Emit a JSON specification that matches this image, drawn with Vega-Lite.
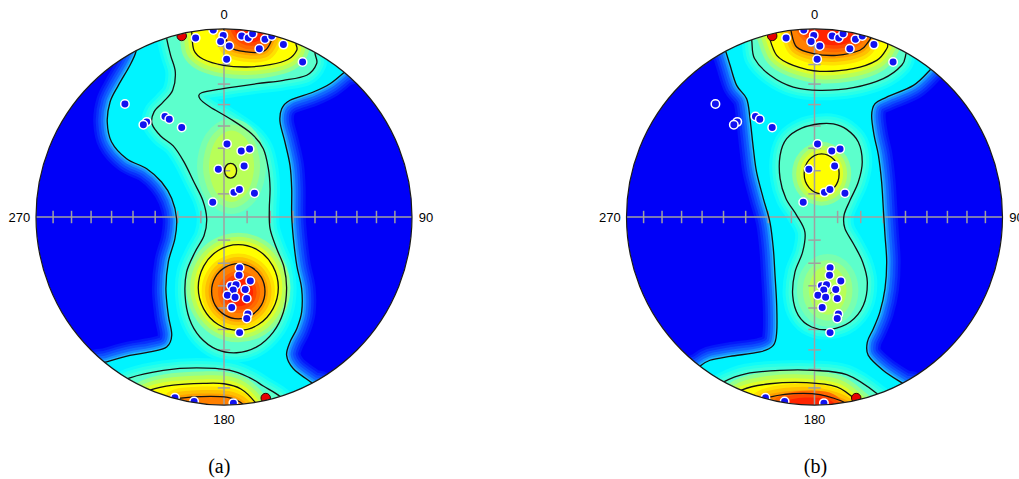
{
"$schema":"https://vega.github.io/schema/vega-lite/v6.json",
"padding":{"left":-37,"top":-44,"right":0,"bottom":0},
"background":"white",
"config":{"view":{"stroke":null}},
"bounds":"flush",
"spacing":214.5,
"data":{"values":[
{"p":"a","k":"c","x":0,"y":0},{"p":"b","k":"c","x":0,"y":0},

{"p":"a","k":"g","g":"a1","l":"1","x":-0.468,"y":0.881},{"p":"a","k":"g","g":"a1","l":"1","x":-0.5,"y":0.807},{"p":"a","k":"g","g":"a1","l":"1","x":-0.562,"y":0.7},{"p":"a","k":"g","g":"a1","l":"1","x":-0.606,"y":0.612},{"p":"a","k":"g","g":"a1","l":"1","x":-0.621,"y":0.505},{"p":"a","k":"g","g":"a1","l":"1","x":-0.598,"y":0.399},{"p":"a","k":"g","g":"a1","l":"1","x":-0.518,"y":0.31},{"p":"a","k":"g","g":"a1","l":"1","x":-0.411,"y":0.257},{"p":"a","k":"g","g":"a1","l":"1","x":-0.332,"y":0.186},{"p":"a","k":"g","g":"a1","l":"1","x":-0.278,"y":0.098},{"p":"a","k":"g","g":"a1","l":"1","x":-0.252,"y":-0.009},{"p":"a","k":"g","g":"a1","l":"1","x":-0.261,"y":-0.115},{"p":"a","k":"g","g":"a1","l":"1","x":-0.296,"y":-0.239},{"p":"a","k":"g","g":"a1","l":"1","x":-0.309,"y":-0.381},{"p":"a","k":"g","g":"a1","l":"1","x":-0.296,"y":-0.523},{"p":"a","k":"g","g":"a1","l":"1","x":-0.278,"y":-0.629},{"p":"a","k":"g","g":"a1","l":"1","x":-0.305,"y":-0.691},{"p":"a","k":"g","g":"a1","l":"1","x":-0.394,"y":-0.718},{"p":"a","k":"g","g":"a1","l":"1","x":-0.5,"y":-0.736},{"p":"a","k":"g","g":"a1","l":"1","x":-0.624,"y":-0.771},{"p":"a","k":"g","g":"a1","l":"1","x":-0.67,"y":-0.79},{"p":"a","k":"g","g":"a1","l":"1","x":-0.486,"y":-0.914},{"p":"a","k":"g","g":"a1","l":"1","x":-0.25,"y":-1.004},{"p":"a","k":"g","g":"a1","l":"1","x":0,"y":-1.035},{"p":"a","k":"g","g":"a1","l":"1","x":0.25,"y":-1.004},{"p":"a","k":"g","g":"a1","l":"1","x":0.5,"y":-0.905},{"p":"a","k":"g","g":"a1","l":"1","x":0.466,"y":-0.881},{"p":"a","k":"g","g":"a1","l":"1","x":0.369,"y":-0.807},{"p":"a","k":"g","g":"a1","l":"1","x":0.333,"y":-0.736},{"p":"a","k":"g","g":"a1","l":"1","x":0.351,"y":-0.665},{"p":"a","k":"g","g":"a1","l":"1","x":0.387,"y":-0.594},{"p":"a","k":"g","g":"a1","l":"1","x":0.413,"y":-0.505},{"p":"a","k":"g","g":"a1","l":"1","x":0.413,"y":-0.381},{"p":"a","k":"g","g":"a1","l":"1","x":0.387,"y":-0.257},{"p":"a","k":"g","g":"a1","l":"1","x":0.369,"y":-0.115},{"p":"a","k":"g","g":"a1","l":"1","x":0.36,"y":0.009},{"p":"a","k":"g","g":"a1","l":"1","x":0.36,"y":0.151},{"p":"a","k":"g","g":"a1","l":"1","x":0.351,"y":0.275},{"p":"a","k":"g","g":"a1","l":"1","x":0.324,"y":0.399},{"p":"a","k":"g","g":"a1","l":"1","x":0.298,"y":0.505},{"p":"a","k":"g","g":"a1","l":"1","x":0.307,"y":0.576},{"p":"a","k":"g","g":"a1","l":"1","x":0.351,"y":0.621},{"p":"a","k":"g","g":"a1","l":"1","x":0.475,"y":0.665},{"p":"a","k":"g","g":"a1","l":"1","x":0.564,"y":0.709},{"p":"a","k":"g","g":"a1","l":"1","x":0.64,"y":0.77},{"p":"a","k":"g","g":"a1","l":"1","x":0.665,"y":0.792},{"p":"a","k":"g","g":"a1","l":"1","x":0.486,"y":0.914},{"p":"a","k":"g","g":"a1","l":"1","x":0.25,"y":1.004},{"p":"a","k":"g","g":"a1","l":"1","x":0,"y":1.035},{"p":"a","k":"g","g":"a1","l":"1","x":-0.25,"y":1.004},{"p":"a","k":"g","g":"a1","l":"1","x":-0.48,"y":0.917},

{"p":"a","k":"g","g":"a2","l":"2","x":-0.305,"y":0.949},{"p":"a","k":"g","g":"a2","l":"2","x":-0.31,"y":0.988},{"p":"a","k":"g","g":"a2","l":"2","x":-0.126,"y":1.027},{"p":"a","k":"g","g":"a2","l":"2","x":0.126,"y":1.027},{"p":"a","k":"g","g":"a2","l":"2","x":0.371,"y":0.966},{"p":"a","k":"g","g":"a2","l":"2","x":0.5,"y":0.905},{"p":"a","k":"g","g":"a2","l":"2","x":0.484,"y":0.872},{"p":"a","k":"g","g":"a2","l":"2","x":0.493,"y":0.816},{"p":"a","k":"g","g":"a2","l":"2","x":0.44,"y":0.754},{"p":"a","k":"g","g":"a2","l":"2","x":0.316,"y":0.727},{"p":"a","k":"g","g":"a2","l":"2","x":0.174,"y":0.709},{"p":"a","k":"g","g":"a2","l":"2","x":-0.004,"y":0.683},{"p":"a","k":"g","g":"a2","l":"2","x":-0.119,"y":0.661},{"p":"a","k":"g","g":"a2","l":"2","x":-0.128,"y":0.629},{"p":"a","k":"g","g":"a2","l":"2","x":-0.074,"y":0.585},{"p":"a","k":"g","g":"a2","l":"2","x":0.032,"y":0.523},{"p":"a","k":"g","g":"a2","l":"2","x":0.147,"y":0.443},{"p":"a","k":"g","g":"a2","l":"2","x":0.209,"y":0.363},{"p":"a","k":"g","g":"a2","l":"2","x":0.236,"y":0.257},{"p":"a","k":"g","g":"a2","l":"2","x":0.245,"y":0.151},{"p":"a","k":"g","g":"a2","l":"2","x":0.241,"y":0.044},{"p":"a","k":"g","g":"a2","l":"2","x":0.245,"y":-0.062},{"p":"a","k":"g","g":"a2","l":"2","x":0.28,"y":-0.168},{"p":"a","k":"g","g":"a2","l":"2","x":0.319,"y":-0.266},{"p":"a","k":"g","g":"a2","l":"2","x":0.333,"y":-0.381},{"p":"a","k":"g","g":"a2","l":"2","x":0.316,"y":-0.505},{"p":"a","k":"g","g":"a2","l":"2","x":0.262,"y":-0.612},{"p":"a","k":"g","g":"a2","l":"2","x":0.174,"y":-0.691},{"p":"a","k":"g","g":"a2","l":"2","x":0.067,"y":-0.722},{"p":"a","k":"g","g":"a2","l":"2","x":-0.039,"y":-0.704},{"p":"a","k":"g","g":"a2","l":"2","x":-0.128,"y":-0.638},{"p":"a","k":"g","g":"a2","l":"2","x":-0.184,"y":-0.541},{"p":"a","k":"g","g":"a2","l":"2","x":-0.207,"y":-0.417},{"p":"a","k":"g","g":"a2","l":"2","x":-0.199,"y":-0.293},{"p":"a","k":"g","g":"a2","l":"2","x":-0.154,"y":-0.186},{"p":"a","k":"g","g":"a2","l":"2","x":-0.106,"y":-0.098},{"p":"a","k":"g","g":"a2","l":"2","x":-0.092,"y":-0.009},{"p":"a","k":"g","g":"a2","l":"2","x":-0.113,"y":0.089},{"p":"a","k":"g","g":"a2","l":"2","x":-0.16,"y":0.186},{"p":"a","k":"g","g":"a2","l":"2","x":-0.213,"y":0.293},{"p":"a","k":"g","g":"a2","l":"2","x":-0.27,"y":0.378},{"p":"a","k":"g","g":"a2","l":"2","x":-0.337,"y":0.431},{"p":"a","k":"g","g":"a2","l":"2","x":-0.383,"y":0.496},{"p":"a","k":"g","g":"a2","l":"2","x":-0.372,"y":0.559},{"p":"a","k":"g","g":"a2","l":"2","x":-0.323,"y":0.612},{"p":"a","k":"g","g":"a2","l":"2","x":-0.273,"y":0.674},{"p":"a","k":"g","g":"a2","l":"2","x":-0.259,"y":0.771},{"p":"a","k":"g","g":"a2","l":"2","x":-0.284,"y":0.86},

{"p":"a","k":"g","g":"a2b","l":"2","x":-0.5,"y":-0.856},{"p":"a","k":"g","g":"a2b","l":"2","x":-0.323,"y":-0.816},{"p":"a","k":"g","g":"a2b","l":"2","x":-0.145,"y":-0.803},{"p":"a","k":"g","g":"a2b","l":"2","x":0.032,"y":-0.816},{"p":"a","k":"g","g":"a2b","l":"2","x":0.138,"y":-0.856},{"p":"a","k":"g","g":"a2b","l":"2","x":0.209,"y":-0.899},{"p":"a","k":"g","g":"a2b","l":"2","x":0.295,"y":-0.952},{"p":"a","k":"g","g":"a2b","l":"2","x":0.31,"y":-0.988},{"p":"a","k":"g","g":"a2b","l":"2","x":0.126,"y":-1.027},{"p":"a","k":"g","g":"a2b","l":"2","x":-0.126,"y":-1.027},{"p":"a","k":"g","g":"a2b","l":"2","x":-0.371,"y":-0.966},{"p":"a","k":"g","g":"a2b","l":"2","x":-0.53,"y":-0.889},

{"p":"a","k":"g","g":"a2m","l":"2m","x":0.16,"y":0.27},{"p":"a","k":"g","g":"a2m","l":"2m","x":0.125,"y":0.404},{"p":"a","k":"g","g":"a2m","l":"2m","x":0.04,"y":0.46},{"p":"a","k":"g","g":"a2m","l":"2m","x":-0.045,"y":0.404},{"p":"a","k":"g","g":"a2m","l":"2m","x":-0.08,"y":0.27},{"p":"a","k":"g","g":"a2m","l":"2m","x":-0.045,"y":0.136},{"p":"a","k":"g","g":"a2m","l":"2m","x":0.04,"y":0.08},{"p":"a","k":"g","g":"a2m","l":"2m","x":0.125,"y":0.136},

{"p":"a","k":"g","g":"a3t","l":"3","x":-0.172,"y":0.985},{"p":"a","k":"g","g":"a3t","l":"3","x":-0.16,"y":0.887},{"p":"a","k":"g","g":"a3t","l":"3","x":-0.11,"y":0.839},{"p":"a","k":"g","g":"a3t","l":"3","x":-0.004,"y":0.807},{"p":"a","k":"g","g":"a3t","l":"3","x":0.121,"y":0.798},{"p":"a","k":"g","g":"a3t","l":"3","x":0.245,"y":0.81},{"p":"a","k":"g","g":"a3t","l":"3","x":0.342,"y":0.839},{"p":"a","k":"g","g":"a3t","l":"3","x":0.387,"y":0.887},{"p":"a","k":"g","g":"a3t","l":"3","x":0.383,"y":0.924},{"p":"a","k":"g","g":"a3t","l":"3","x":0.4,"y":0.955},{"p":"a","k":"g","g":"a3t","l":"3","x":0.2,"y":1.015},{"p":"a","k":"g","g":"a3t","l":"3","x":0,"y":1.035},{"p":"a","k":"g","g":"a3t","l":"3","x":-0.18,"y":1.02},

{"p":"a","k":"g","g":"a3b","l":"3","x":-0.39,"y":-0.92},{"p":"a","k":"g","g":"a3b","l":"3","x":-0.27,"y":-0.894},{"p":"a","k":"g","g":"a3b","l":"3","x":-0.11,"y":-0.885},{"p":"a","k":"g","g":"a3b","l":"3","x":0,"y":-0.887},{"p":"a","k":"g","g":"a3b","l":"3","x":0.09,"y":-0.915},{"p":"a","k":"g","g":"a3b","l":"3","x":0.165,"y":-0.985},{"p":"a","k":"g","g":"a3b","l":"3","x":0.175,"y":-1.02},{"p":"a","k":"g","g":"a3b","l":"3","x":0,"y":-1.035},{"p":"a","k":"g","g":"a3b","l":"3","x":-0.2,"y":-1.015},{"p":"a","k":"g","g":"a3b","l":"3","x":-0.41,"y":-0.95},

{"p":"a","k":"g","g":"a3r","l":"3","x":0.289,"y":-0.375},{"p":"a","k":"g","g":"a3r","l":"3","x":0.26,"y":-0.261},{"p":"a","k":"g","g":"a3r","l":"3","x":0.183,"y":-0.178},{"p":"a","k":"g","g":"a3r","l":"3","x":0.076,"y":-0.147},{"p":"a","k":"g","g":"a3r","l":"3","x":-0.031,"y":-0.178},{"p":"a","k":"g","g":"a3r","l":"3","x":-0.108,"y":-0.261},{"p":"a","k":"g","g":"a3r","l":"3","x":-0.137,"y":-0.375},{"p":"a","k":"g","g":"a3r","l":"3","x":-0.108,"y":-0.489},{"p":"a","k":"g","g":"a3r","l":"3","x":-0.031,"y":-0.572},{"p":"a","k":"g","g":"a3r","l":"3","x":0.076,"y":-0.603},{"p":"a","k":"g","g":"a3r","l":"3","x":0.183,"y":-0.572},{"p":"a","k":"g","g":"a3r","l":"3","x":0.26,"y":-0.489},

{"p":"a","k":"g","g":"a3s","l":"3s","x":0.067,"y":0.246},{"p":"a","k":"g","g":"a3s","l":"3s","x":0.058,"y":0.274},{"p":"a","k":"g","g":"a3s","l":"3s","x":0.035,"y":0.285},{"p":"a","k":"g","g":"a3s","l":"3s","x":0.012,"y":0.274},{"p":"a","k":"g","g":"a3s","l":"3s","x":0.003,"y":0.246},{"p":"a","k":"g","g":"a3s","l":"3s","x":0.012,"y":0.218},{"p":"a","k":"g","g":"a3s","l":"3s","x":0.035,"y":0.207},{"p":"a","k":"g","g":"a3s","l":"3s","x":0.058,"y":0.218},

{"p":"a","k":"g","g":"a4t","l":"4","x":0,"y":0.995},{"p":"a","k":"g","g":"a4t","l":"4","x":0.032,"y":0.904},{"p":"a","k":"g","g":"a4t","l":"4","x":0.121,"y":0.878},{"p":"a","k":"g","g":"a4t","l":"4","x":0.209,"y":0.881},{"p":"a","k":"g","g":"a4t","l":"4","x":0.245,"y":0.922},{"p":"a","k":"g","g":"a4t","l":"4","x":0.26,"y":0.966},{"p":"a","k":"g","g":"a4t","l":"4","x":0.27,"y":1.0},{"p":"a","k":"g","g":"a4t","l":"4","x":0.12,"y":1.028},{"p":"a","k":"g","g":"a4t","l":"4","x":-0.01,"y":1.035},

{"p":"a","k":"g","g":"a4b","l":"4","x":-0.25,"y":-0.968},{"p":"a","k":"g","g":"a4b","l":"4","x":-0.12,"y":-0.955},{"p":"a","k":"g","g":"a4b","l":"4","x":0.02,"y":-0.96},{"p":"a","k":"g","g":"a4b","l":"4","x":0.1,"y":-0.995},{"p":"a","k":"g","g":"a4b","l":"4","x":0.105,"y":-1.03},{"p":"a","k":"g","g":"a4b","l":"4","x":-0.08,"y":-1.032},{"p":"a","k":"g","g":"a4b","l":"4","x":-0.26,"y":-1.0},

{"p":"a","k":"g","g":"a4r","l":"4","x":0.218,"y":-0.395},{"p":"a","k":"g","g":"a4r","l":"4","x":0.199,"y":-0.321},{"p":"a","k":"g","g":"a4r","l":"4","x":0.147,"y":-0.268},{"p":"a","k":"g","g":"a4r","l":"4","x":0.076,"y":-0.248},{"p":"a","k":"g","g":"a4r","l":"4","x":0.005,"y":-0.268},{"p":"a","k":"g","g":"a4r","l":"4","x":-0.047,"y":-0.321},{"p":"a","k":"g","g":"a4r","l":"4","x":-0.066,"y":-0.395},{"p":"a","k":"g","g":"a4r","l":"4","x":-0.047,"y":-0.469},{"p":"a","k":"g","g":"a4r","l":"4","x":0.005,"y":-0.522},{"p":"a","k":"g","g":"a4r","l":"4","x":0.076,"y":-0.542},{"p":"a","k":"g","g":"a4r","l":"4","x":0.147,"y":-0.522},{"p":"a","k":"g","g":"a4r","l":"4","x":0.199,"y":-0.469},

{"p":"a","k":"g","g":"a5r","l":"5","x":0.155,"y":-0.4},{"p":"a","k":"g","g":"a5r","l":"5","x":0.133,"y":-0.347},{"p":"a","k":"g","g":"a5r","l":"5","x":0.08,"y":-0.325},{"p":"a","k":"g","g":"a5r","l":"5","x":0.027,"y":-0.347},{"p":"a","k":"g","g":"a5r","l":"5","x":0.005,"y":-0.4},{"p":"a","k":"g","g":"a5r","l":"5","x":0.027,"y":-0.453},{"p":"a","k":"g","g":"a5r","l":"5","x":0.08,"y":-0.475},{"p":"a","k":"g","g":"a5r","l":"5","x":0.133,"y":-0.453},

{"p":"a","k":"g","g":"a5t","l":"5","x":0.06,"y":0.985},{"p":"a","k":"g","g":"a5t","l":"5","x":0.1,"y":0.94},{"p":"a","k":"g","g":"a5t","l":"5","x":0.16,"y":0.93},{"p":"a","k":"g","g":"a5t","l":"5","x":0.21,"y":0.955},{"p":"a","k":"g","g":"a5t","l":"5","x":0.23,"y":0.975},{"p":"a","k":"g","g":"a5t","l":"5","x":0.24,"y":1.008},{"p":"a","k":"g","g":"a5t","l":"5","x":0.12,"y":1.028},{"p":"a","k":"g","g":"a5t","l":"5","x":0.05,"y":1.034},

{"p":"b","k":"g","g":"b1","l":"1","x":-0.471,"y":0.878},{"p":"b","k":"g","g":"b1","l":"1","x":-0.449,"y":0.807},{"p":"b","k":"g","g":"b1","l":"1","x":-0.414,"y":0.7},{"p":"b","k":"g","g":"b1","l":"1","x":-0.361,"y":0.629},{"p":"b","k":"g","g":"b1","l":"1","x":-0.343,"y":0.523},{"p":"b","k":"g","g":"b1","l":"1","x":-0.325,"y":0.363},{"p":"b","k":"g","g":"b1","l":"1","x":-0.308,"y":0.239},{"p":"b","k":"g","g":"b1","l":"1","x":-0.272,"y":0.098},{"p":"b","k":"g","g":"b1","l":"1","x":-0.237,"y":-0.027},{"p":"b","k":"g","g":"b1","l":"1","x":-0.219,"y":-0.168},{"p":"b","k":"g","g":"b1","l":"1","x":-0.21,"y":-0.31},{"p":"b","k":"g","g":"b1","l":"1","x":-0.201,"y":-0.47},{"p":"b","k":"g","g":"b1","l":"1","x":-0.201,"y":-0.612},{"p":"b","k":"g","g":"b1","l":"1","x":-0.219,"y":-0.683},{"p":"b","k":"g","g":"b1","l":"1","x":-0.29,"y":-0.718},{"p":"b","k":"g","g":"b1","l":"1","x":-0.449,"y":-0.741},{"p":"b","k":"g","g":"b1","l":"1","x":-0.556,"y":-0.762},{"p":"b","k":"g","g":"b1","l":"1","x":-0.61,"y":-0.795},{"p":"b","k":"g","g":"b1","l":"1","x":-0.63,"y":-0.82},{"p":"b","k":"g","g":"b1","l":"1","x":-0.486,"y":-0.914},{"p":"b","k":"g","g":"b1","l":"1","x":-0.25,"y":-1.004},{"p":"b","k":"g","g":"b1","l":"1","x":0,"y":-1.035},{"p":"b","k":"g","g":"b1","l":"1","x":0.25,"y":-1.004},{"p":"b","k":"g","g":"b1","l":"1","x":0.5,"y":-0.905},{"p":"b","k":"g","g":"b1","l":"1","x":0.472,"y":-0.887},{"p":"b","k":"g","g":"b1","l":"1","x":0.366,"y":-0.816},{"p":"b","k":"g","g":"b1","l":"1","x":0.286,"y":-0.736},{"p":"b","k":"g","g":"b1","l":"1","x":0.281,"y":-0.665},{"p":"b","k":"g","g":"b1","l":"1","x":0.313,"y":-0.594},{"p":"b","k":"g","g":"b1","l":"1","x":0.348,"y":-0.505},{"p":"b","k":"g","g":"b1","l":"1","x":0.375,"y":-0.381},{"p":"b","k":"g","g":"b1","l":"1","x":0.384,"y":-0.239},{"p":"b","k":"g","g":"b1","l":"1","x":0.375,"y":-0.098},{"p":"b","k":"g","g":"b1","l":"1","x":0.366,"y":0.044},{"p":"b","k":"g","g":"b1","l":"1","x":0.357,"y":0.186},{"p":"b","k":"g","g":"b1","l":"1","x":0.34,"y":0.328},{"p":"b","k":"g","g":"b1","l":"1","x":0.317,"y":0.434},{"p":"b","k":"g","g":"b1","l":"1","x":0.304,"y":0.541},{"p":"b","k":"g","g":"b1","l":"1","x":0.322,"y":0.603},{"p":"b","k":"g","g":"b1","l":"1","x":0.384,"y":0.638},{"p":"b","k":"g","g":"b1","l":"1","x":0.526,"y":0.7},{"p":"b","k":"g","g":"b1","l":"1","x":0.618,"y":0.786},{"p":"b","k":"g","g":"b1","l":"1","x":0.64,"y":0.815},{"p":"b","k":"g","g":"b1","l":"1","x":0.486,"y":0.914},{"p":"b","k":"g","g":"b1","l":"1","x":0.25,"y":1.004},{"p":"b","k":"g","g":"b1","l":"1","x":0,"y":1.035},{"p":"b","k":"g","g":"b1","l":"1","x":-0.25,"y":1.004},{"p":"b","k":"g","g":"b1","l":"1","x":-0.485,"y":0.914},

{"p":"b","k":"g","g":"b2t","l":"2","x":-0.334,"y":0.94},{"p":"b","k":"g","g":"b2t","l":"2","x":-0.319,"y":0.843},{"p":"b","k":"g","g":"b2t","l":"2","x":-0.236,"y":0.754},{"p":"b","k":"g","g":"b2t","l":"2","x":-0.113,"y":0.691},{"p":"b","k":"g","g":"b2t","l":"2","x":0.029,"y":0.674},{"p":"b","k":"g","g":"b2t","l":"2","x":0.206,"y":0.688},{"p":"b","k":"g","g":"b2t","l":"2","x":0.366,"y":0.736},{"p":"b","k":"g","g":"b2t","l":"2","x":0.464,"y":0.807},{"p":"b","k":"g","g":"b2t","l":"2","x":0.487,"y":0.869},{"p":"b","k":"g","g":"b2t","l":"2","x":0.5,"y":0.906},{"p":"b","k":"g","g":"b2t","l":"2","x":0.25,"y":1.004},{"p":"b","k":"g","g":"b2t","l":"2","x":0,"y":1.035},{"p":"b","k":"g","g":"b2t","l":"2","x":-0.345,"y":0.976},

{"p":"b","k":"g","g":"b2p","l":"2","x":0.029,"y":0.496},{"p":"b","k":"g","g":"b2p","l":"2","x":-0.068,"y":0.473},{"p":"b","k":"g","g":"b2p","l":"2","x":-0.148,"y":0.417},{"p":"b","k":"g","g":"b2p","l":"2","x":-0.183,"y":0.328},{"p":"b","k":"g","g":"b2p","l":"2","x":-0.183,"y":0.204},{"p":"b","k":"g","g":"b2p","l":"2","x":-0.152,"y":0.098},{"p":"b","k":"g","g":"b2p","l":"2","x":-0.095,"y":0.009},{"p":"b","k":"g","g":"b2p","l":"2","x":-0.051,"y":-0.08},{"p":"b","k":"g","g":"b2p","l":"2","x":-0.063,"y":-0.186},{"p":"b","k":"g","g":"b2p","l":"2","x":-0.104,"y":-0.293},{"p":"b","k":"g","g":"b2p","l":"2","x":-0.116,"y":-0.417},{"p":"b","k":"g","g":"b2p","l":"2","x":-0.086,"y":-0.523},{"p":"b","k":"g","g":"b2p","l":"2","x":-0.015,"y":-0.585},{"p":"b","k":"g","g":"b2p","l":"2","x":0.082,"y":-0.598},{"p":"b","k":"g","g":"b2p","l":"2","x":0.189,"y":-0.559},{"p":"b","k":"g","g":"b2p","l":"2","x":0.26,"y":-0.47},{"p":"b","k":"g","g":"b2p","l":"2","x":0.281,"y":-0.346},{"p":"b","k":"g","g":"b2p","l":"2","x":0.256,"y":-0.239},{"p":"b","k":"g","g":"b2p","l":"2","x":0.207,"y":-0.142},{"p":"b","k":"g","g":"b2p","l":"2","x":0.162,"y":-0.062},{"p":"b","k":"g","g":"b2p","l":"2","x":0.157,"y":0.009},{"p":"b","k":"g","g":"b2p","l":"2","x":0.189,"y":0.089},{"p":"b","k":"g","g":"b2p","l":"2","x":0.233,"y":0.186},{"p":"b","k":"g","g":"b2p","l":"2","x":0.254,"y":0.293},{"p":"b","k":"g","g":"b2p","l":"2","x":0.233,"y":0.399},{"p":"b","k":"g","g":"b2p","l":"2","x":0.171,"y":0.466},{"p":"b","k":"g","g":"b2p","l":"2","x":0.1,"y":0.495},

{"p":"b","k":"g","g":"b2b","l":"2","x":-0.485,"y":-0.878},{"p":"b","k":"g","g":"b2b","l":"2","x":-0.361,"y":-0.833},{"p":"b","k":"g","g":"b2b","l":"2","x":-0.184,"y":-0.816},{"p":"b","k":"g","g":"b2b","l":"2","x":-0.006,"y":-0.816},{"p":"b","k":"g","g":"b2b","l":"2","x":0.171,"y":-0.839},{"p":"b","k":"g","g":"b2b","l":"2","x":0.335,"y":-0.942},{"p":"b","k":"g","g":"b2b","l":"2","x":0.345,"y":-0.976},{"p":"b","k":"g","g":"b2b","l":"2","x":0.126,"y":-1.027},{"p":"b","k":"g","g":"b2b","l":"2","x":-0.126,"y":-1.027},{"p":"b","k":"g","g":"b2b","l":"2","x":-0.371,"y":-0.966},{"p":"b","k":"g","g":"b2b","l":"2","x":-0.5,"y":-0.906},

{"p":"b","k":"g","g":"b2m","l":"2m","x":0.17,"y":-0.39},{"p":"b","k":"g","g":"b2m","l":"2m","x":0.141,"y":-0.298},{"p":"b","k":"g","g":"b2m","l":"2m","x":0.07,"y":-0.26},{"p":"b","k":"g","g":"b2m","l":"2m","x":-0.001,"y":-0.298},{"p":"b","k":"g","g":"b2m","l":"2m","x":-0.03,"y":-0.39},{"p":"b","k":"g","g":"b2m","l":"2m","x":-0.001,"y":-0.482},{"p":"b","k":"g","g":"b2m","l":"2m","x":0.07,"y":-0.52},{"p":"b","k":"g","g":"b2m","l":"2m","x":0.141,"y":-0.482},

{"p":"b","k":"g","g":"b3t","l":"3","x":-0.245,"y":0.97},{"p":"b","k":"g","g":"b3t","l":"3","x":-0.201,"y":0.86},{"p":"b","k":"g","g":"b3t","l":"3","x":-0.113,"y":0.807},{"p":"b","k":"g","g":"b3t","l":"3","x":0.029,"y":0.775},{"p":"b","k":"g","g":"b3t","l":"3","x":0.206,"y":0.789},{"p":"b","k":"g","g":"b3t","l":"3","x":0.331,"y":0.833},{"p":"b","k":"g","g":"b3t","l":"3","x":0.384,"y":0.895},{"p":"b","k":"g","g":"b3t","l":"3","x":0.39,"y":0.92},{"p":"b","k":"g","g":"b3t","l":"3","x":0.4,"y":0.955},{"p":"b","k":"g","g":"b3t","l":"3","x":0.18,"y":1.02},{"p":"b","k":"g","g":"b3t","l":"3","x":-0.05,"y":1.034},{"p":"b","k":"g","g":"b3t","l":"3","x":-0.255,"y":1.003},

{"p":"b","k":"g","g":"b3r","l":"3","x":0.131,"y":0.23},{"p":"b","k":"g","g":"b3r","l":"3","x":0.104,"y":0.305},{"p":"b","k":"g","g":"b3r","l":"3","x":0.038,"y":0.336},{"p":"b","k":"g","g":"b3r","l":"3","x":-0.028,"y":0.305},{"p":"b","k":"g","g":"b3r","l":"3","x":-0.055,"y":0.23},{"p":"b","k":"g","g":"b3r","l":"3","x":-0.028,"y":0.155},{"p":"b","k":"g","g":"b3r","l":"3","x":0.038,"y":0.124},{"p":"b","k":"g","g":"b3r","l":"3","x":0.104,"y":0.155},

{"p":"b","k":"g","g":"b3b","l":"3","x":-0.385,"y":-0.92},{"p":"b","k":"g","g":"b3b","l":"3","x":-0.237,"y":-0.887},{"p":"b","k":"g","g":"b3b","l":"3","x":-0.042,"y":-0.881},{"p":"b","k":"g","g":"b3b","l":"3","x":0.118,"y":-0.904},{"p":"b","k":"g","g":"b3b","l":"3","x":0.22,"y":-0.975},{"p":"b","k":"g","g":"b3b","l":"3","x":0.23,"y":-1.009},{"p":"b","k":"g","g":"b3b","l":"3","x":0,"y":-1.035},{"p":"b","k":"g","g":"b3b","l":"3","x":-0.2,"y":-1.015},{"p":"b","k":"g","g":"b3b","l":"3","x":-0.4,"y":-0.955},

{"p":"b","k":"g","g":"b3d","l":"3d","x":0.092,"y":-0.39},{"p":"b","k":"g","g":"b3d","l":"3d","x":0.084,"y":-0.371},{"p":"b","k":"g","g":"b3d","l":"3d","x":0.065,"y":-0.363},{"p":"b","k":"g","g":"b3d","l":"3d","x":0.046,"y":-0.371},{"p":"b","k":"g","g":"b3d","l":"3d","x":0.038,"y":-0.39},{"p":"b","k":"g","g":"b3d","l":"3d","x":0.046,"y":-0.409},{"p":"b","k":"g","g":"b3d","l":"3d","x":0.065,"y":-0.417},{"p":"b","k":"g","g":"b3d","l":"3d","x":0.084,"y":-0.409},

{"p":"b","k":"g","g":"b4t","l":"4","x":-0.125,"y":0.99},{"p":"b","k":"g","g":"b4t","l":"4","x":-0.095,"y":0.904},{"p":"b","k":"g","g":"b4t","l":"4","x":-0.006,"y":0.869},{"p":"b","k":"g","g":"b4t","l":"4","x":0.118,"y":0.86},{"p":"b","k":"g","g":"b4t","l":"4","x":0.242,"y":0.887},{"p":"b","k":"g","g":"b4t","l":"4","x":0.286,"y":0.931},{"p":"b","k":"g","g":"b4t","l":"4","x":0.3,"y":0.953},{"p":"b","k":"g","g":"b4t","l":"4","x":0.31,"y":0.988},{"p":"b","k":"g","g":"b4t","l":"4","x":0.1,"y":1.03},{"p":"b","k":"g","g":"b4t","l":"4","x":-0.13,"y":1.027},

{"p":"b","k":"g","g":"b4b","l":"4","x":-0.26,"y":-0.966},{"p":"b","k":"g","g":"b4b","l":"4","x":-0.113,"y":-0.94},{"p":"b","k":"g","g":"b4b","l":"4","x":0.029,"y":-0.945},{"p":"b","k":"g","g":"b4b","l":"4","x":0.16,"y":-0.987},{"p":"b","k":"g","g":"b4b","l":"4","x":0.165,"y":-1.022},{"p":"b","k":"g","g":"b4b","l":"4","x":-0.05,"y":-1.034},{"p":"b","k":"g","g":"b4b","l":"4","x":-0.27,"y":-1.0},

{"p":"b","k":"g","g":"b5t","l":"5","x":-0.05,"y":0.985},{"p":"b","k":"g","g":"b5t","l":"5","x":0.03,"y":0.925},{"p":"b","k":"g","g":"b5t","l":"5","x":0.13,"y":0.915},{"p":"b","k":"g","g":"b5t","l":"5","x":0.21,"y":0.94},{"p":"b","k":"g","g":"b5t","l":"5","x":0.24,"y":0.97},{"p":"b","k":"g","g":"b5t","l":"5","x":0.25,"y":1.004},{"p":"b","k":"g","g":"b5t","l":"5","x":0.1,"y":1.03},{"p":"b","k":"g","g":"b5t","l":"5","x":-0.05,"y":1.034},

{"p":"b","k":"g","g":"b5b","l":"5","x":-0.17,"y":-0.985},{"p":"b","k":"g","g":"b5b","l":"5","x":-0.07,"y":-0.962},{"p":"b","k":"g","g":"b5b","l":"5","x":0.05,"y":-0.965},{"p":"b","k":"g","g":"b5b","l":"5","x":0.11,"y":-0.994},{"p":"b","k":"g","g":"b5b","l":"5","x":0.115,"y":-1.03},{"p":"b","k":"g","g":"b5b","l":"5","x":-0.17,"y":-1.022},

{"p":"a","k":"t","x":-1,"y":0,"x2":1,"y2":0},{"p":"a","k":"t","x":0,"y":-1,"x2":0,"y2":1},
{"p":"a","k":"t","x":0.123,"y":-0.033,"x2":0.123,"y2":0.033},{"p":"a","k":"t","x":0.246,"y":-0.033,"x2":0.246,"y2":0.033},{"p":"a","k":"t","x":0.366,"y":-0.033,"x2":0.366,"y2":0.033},{"p":"a","k":"t","x":0.484,"y":-0.033,"x2":0.484,"y2":0.033},{"p":"a","k":"t","x":0.598,"y":-0.033,"x2":0.598,"y2":0.033},{"p":"a","k":"t","x":0.707,"y":-0.033,"x2":0.707,"y2":0.033},{"p":"a","k":"t","x":0.811,"y":-0.033,"x2":0.811,"y2":0.033},{"p":"a","k":"t","x":0.909,"y":-0.033,"x2":0.909,"y2":0.033},
{"p":"a","k":"t","x":-0.123,"y":-0.033,"x2":-0.123,"y2":0.033},{"p":"a","k":"t","x":-0.246,"y":-0.033,"x2":-0.246,"y2":0.033},{"p":"a","k":"t","x":-0.366,"y":-0.033,"x2":-0.366,"y2":0.033},{"p":"a","k":"t","x":-0.484,"y":-0.033,"x2":-0.484,"y2":0.033},{"p":"a","k":"t","x":-0.598,"y":-0.033,"x2":-0.598,"y2":0.033},{"p":"a","k":"t","x":-0.707,"y":-0.033,"x2":-0.707,"y2":0.033},{"p":"a","k":"t","x":-0.811,"y":-0.033,"x2":-0.811,"y2":0.033},{"p":"a","k":"t","x":-0.909,"y":-0.033,"x2":-0.909,"y2":0.033},
{"p":"a","k":"t","y":0.123,"x":-0.033,"y2":0.123,"x2":0.033},{"p":"a","k":"t","y":0.246,"x":-0.033,"y2":0.246,"x2":0.033},{"p":"a","k":"t","y":0.366,"x":-0.033,"y2":0.366,"x2":0.033},{"p":"a","k":"t","y":0.484,"x":-0.033,"y2":0.484,"x2":0.033},{"p":"a","k":"t","y":0.598,"x":-0.033,"y2":0.598,"x2":0.033},{"p":"a","k":"t","y":0.707,"x":-0.033,"y2":0.707,"x2":0.033},{"p":"a","k":"t","y":0.811,"x":-0.033,"y2":0.811,"x2":0.033},{"p":"a","k":"t","y":0.909,"x":-0.033,"y2":0.909,"x2":0.033},
{"p":"a","k":"t","y":-0.123,"x":-0.033,"y2":-0.123,"x2":0.033},{"p":"a","k":"t","y":-0.246,"x":-0.033,"y2":-0.246,"x2":0.033},{"p":"a","k":"t","y":-0.366,"x":-0.033,"y2":-0.366,"x2":0.033},{"p":"a","k":"t","y":-0.484,"x":-0.033,"y2":-0.484,"x2":0.033},{"p":"a","k":"t","y":-0.598,"x":-0.033,"y2":-0.598,"x2":0.033},{"p":"a","k":"t","y":-0.707,"x":-0.033,"y2":-0.707,"x2":0.033},{"p":"a","k":"t","y":-0.811,"x":-0.033,"y2":-0.811,"x2":0.033},{"p":"a","k":"t","y":-0.909,"x":-0.033,"y2":-0.909,"x2":0.033},

{"p":"b","k":"t","x":-1,"y":0,"x2":1,"y2":0},{"p":"b","k":"t","x":0,"y":-1,"x2":0,"y2":1},
{"p":"b","k":"t","x":0.123,"y":-0.033,"x2":0.123,"y2":0.033},{"p":"b","k":"t","x":0.246,"y":-0.033,"x2":0.246,"y2":0.033},{"p":"b","k":"t","x":0.366,"y":-0.033,"x2":0.366,"y2":0.033},{"p":"b","k":"t","x":0.484,"y":-0.033,"x2":0.484,"y2":0.033},{"p":"b","k":"t","x":0.598,"y":-0.033,"x2":0.598,"y2":0.033},{"p":"b","k":"t","x":0.707,"y":-0.033,"x2":0.707,"y2":0.033},{"p":"b","k":"t","x":0.811,"y":-0.033,"x2":0.811,"y2":0.033},{"p":"b","k":"t","x":0.909,"y":-0.033,"x2":0.909,"y2":0.033},
{"p":"b","k":"t","x":-0.123,"y":-0.033,"x2":-0.123,"y2":0.033},{"p":"b","k":"t","x":-0.246,"y":-0.033,"x2":-0.246,"y2":0.033},{"p":"b","k":"t","x":-0.366,"y":-0.033,"x2":-0.366,"y2":0.033},{"p":"b","k":"t","x":-0.484,"y":-0.033,"x2":-0.484,"y2":0.033},{"p":"b","k":"t","x":-0.598,"y":-0.033,"x2":-0.598,"y2":0.033},{"p":"b","k":"t","x":-0.707,"y":-0.033,"x2":-0.707,"y2":0.033},{"p":"b","k":"t","x":-0.811,"y":-0.033,"x2":-0.811,"y2":0.033},{"p":"b","k":"t","x":-0.909,"y":-0.033,"x2":-0.909,"y2":0.033},
{"p":"b","k":"t","y":0.123,"x":-0.033,"y2":0.123,"x2":0.033},{"p":"b","k":"t","y":0.246,"x":-0.033,"y2":0.246,"x2":0.033},{"p":"b","k":"t","y":0.366,"x":-0.033,"y2":0.366,"x2":0.033},{"p":"b","k":"t","y":0.484,"x":-0.033,"y2":0.484,"x2":0.033},{"p":"b","k":"t","y":0.598,"x":-0.033,"y2":0.598,"x2":0.033},{"p":"b","k":"t","y":0.707,"x":-0.033,"y2":0.707,"x2":0.033},{"p":"b","k":"t","y":0.811,"x":-0.033,"y2":0.811,"x2":0.033},{"p":"b","k":"t","y":0.909,"x":-0.033,"y2":0.909,"x2":0.033},
{"p":"b","k":"t","y":-0.123,"x":-0.033,"y2":-0.123,"x2":0.033},{"p":"b","k":"t","y":-0.246,"x":-0.033,"y2":-0.246,"x2":0.033},{"p":"b","k":"t","y":-0.366,"x":-0.033,"y2":-0.366,"x2":0.033},{"p":"b","k":"t","y":-0.484,"x":-0.033,"y2":-0.484,"x2":0.033},{"p":"b","k":"t","y":-0.598,"x":-0.033,"y2":-0.598,"x2":0.033},{"p":"b","k":"t","y":-0.707,"x":-0.033,"y2":-0.707,"x2":0.033},{"p":"b","k":"t","y":-0.811,"x":-0.033,"y2":-0.811,"x2":0.033},{"p":"b","k":"t","y":-0.909,"x":-0.033,"y2":-0.909,"x2":0.033},

{"p":"a","k":"m","x":-0.151,"y":0.952},{"p":"a","k":"m","x":-0.057,"y":0.995},{"p":"a","k":"m","x":-0.004,"y":0.966},{"p":"a","k":"m","x":-0.018,"y":0.934},{"p":"a","k":"m","x":0.028,"y":0.91},{"p":"a","k":"m","x":0.014,"y":0.839},{"p":"a","k":"m","x":0.094,"y":0.963},{"p":"a","k":"m","x":0.129,"y":0.952},{"p":"a","k":"m","x":0.152,"y":0.975},{"p":"a","k":"m","x":0.218,"y":0.945},{"p":"a","k":"m","x":0.254,"y":0.963},{"p":"a","k":"m","x":0.188,"y":0.895},{"p":"a","k":"m","x":0.316,"y":0.917},{"p":"a","k":"m","x":0.418,"y":0.824},
{"p":"a","k":"m","x":-0.527,"y":0.601},{"p":"a","k":"m","x":-0.411,"y":0.506},{"p":"a","k":"m","x":-0.429,"y":0.491},{"p":"a","k":"m","x":-0.314,"y":0.535},{"p":"a","k":"m","x":-0.291,"y":0.52},{"p":"a","k":"m","x":-0.225,"y":0.476},{"p":"a","k":"m","x":0.016,"y":0.388},{"p":"a","k":"m","x":0.092,"y":0.351},{"p":"a","k":"m","x":0.136,"y":0.362},{"p":"a","k":"m","x":0.107,"y":0.271},{"p":"a","k":"m","x":-0.03,"y":0.254},{"p":"a","k":"m","x":0.053,"y":0.131},{"p":"a","k":"m","x":0.082,"y":0.146},{"p":"a","k":"m","x":0.162,"y":0.126},{"p":"a","k":"m","x":-0.06,"y":0.078},
{"p":"a","k":"m","x":0.083,"y":-0.27},{"p":"a","k":"m","x":0.08,"y":-0.31},{"p":"a","k":"m","x":0.14,"y":-0.34},{"p":"a","k":"m","x":0.037,"y":-0.365},{"p":"a","k":"m","x":0.064,"y":-0.36},{"p":"a","k":"m","x":0.049,"y":-0.388},{"p":"a","k":"m","x":0.018,"y":-0.416},{"p":"a","k":"m","x":0.059,"y":-0.427},{"p":"a","k":"m","x":0.113,"y":-0.386},{"p":"a","k":"m","x":0.121,"y":-0.434},{"p":"a","k":"m","x":0.041,"y":-0.482},{"p":"a","k":"m","x":0.127,"y":-0.516},{"p":"a","k":"m","x":0.121,"y":-0.54},{"p":"a","k":"m","x":0.083,"y":-0.615},{"p":"a","k":"m","x":0.05,"y":-0.99},{"p":"a","k":"m","x":-0.261,"y":-0.962},{"p":"a","k":"m","x":-0.159,"y":-0.981},
{"p":"a","k":"r","x":-0.225,"y":0.963},{"p":"a","k":"r","x":0.222,"y":-0.963},

{"p":"b","k":"m","x":-0.151,"y":0.952},{"p":"b","k":"m","x":-0.057,"y":0.995},{"p":"b","k":"m","x":-0.004,"y":0.966},{"p":"b","k":"m","x":-0.018,"y":0.934},{"p":"b","k":"m","x":0.028,"y":0.91},{"p":"b","k":"m","x":0.014,"y":0.839},{"p":"b","k":"m","x":0.094,"y":0.963},{"p":"b","k":"m","x":0.129,"y":0.952},{"p":"b","k":"m","x":0.152,"y":0.975},{"p":"b","k":"m","x":0.218,"y":0.945},{"p":"b","k":"m","x":0.254,"y":0.963},{"p":"b","k":"m","x":0.188,"y":0.895},{"p":"b","k":"m","x":0.316,"y":0.917},{"p":"b","k":"m","x":0.418,"y":0.824},
{"p":"b","k":"m","x":-0.527,"y":0.601},{"p":"b","k":"m","x":-0.411,"y":0.506},{"p":"b","k":"m","x":-0.429,"y":0.491},{"p":"b","k":"m","x":-0.314,"y":0.535},{"p":"b","k":"m","x":-0.291,"y":0.52},{"p":"b","k":"m","x":-0.225,"y":0.476},{"p":"b","k":"m","x":0.016,"y":0.388},{"p":"b","k":"m","x":0.092,"y":0.351},{"p":"b","k":"m","x":0.136,"y":0.362},{"p":"b","k":"m","x":0.107,"y":0.271},{"p":"b","k":"m","x":-0.03,"y":0.254},{"p":"b","k":"m","x":0.053,"y":0.131},{"p":"b","k":"m","x":0.082,"y":0.146},{"p":"b","k":"m","x":0.162,"y":0.126},{"p":"b","k":"m","x":-0.06,"y":0.078},
{"p":"b","k":"m","x":0.083,"y":-0.27},{"p":"b","k":"m","x":0.08,"y":-0.31},{"p":"b","k":"m","x":0.14,"y":-0.34},{"p":"b","k":"m","x":0.037,"y":-0.365},{"p":"b","k":"m","x":0.064,"y":-0.36},{"p":"b","k":"m","x":0.049,"y":-0.388},{"p":"b","k":"m","x":0.018,"y":-0.416},{"p":"b","k":"m","x":0.059,"y":-0.427},{"p":"b","k":"m","x":0.113,"y":-0.386},{"p":"b","k":"m","x":0.121,"y":-0.434},{"p":"b","k":"m","x":0.041,"y":-0.482},{"p":"b","k":"m","x":0.127,"y":-0.516},{"p":"b","k":"m","x":0.121,"y":-0.54},{"p":"b","k":"m","x":0.083,"y":-0.615},{"p":"b","k":"m","x":0.05,"y":-0.99},{"p":"b","k":"m","x":-0.261,"y":-0.962},{"p":"b","k":"m","x":-0.159,"y":-0.981},
{"p":"b","k":"r","x":-0.225,"y":0.963},{"p":"b","k":"r","x":0.222,"y":-0.963},

{"p":"a","k":"lab","x":0,"y":1.074,"t":"0"},{"p":"a","k":"lab","x":0,"y":-1.08,"t":"180"},{"p":"a","k":"lab","x":-1.088,"y":-0.005,"t":"270"},{"p":"a","k":"lab","x":1.074,"y":-0.005,"t":"90"},{"p":"a","k":"cap","x":-0.025,"y":-1.33,"t":"(a)"},
{"p":"b","k":"lab","x":0,"y":1.074,"t":"0"},{"p":"b","k":"lab","x":0,"y":-1.08,"t":"180"},{"p":"b","k":"lab","x":-1.088,"y":-0.005,"t":"270"},{"p":"b","k":"lab","x":1.074,"y":-0.005,"t":"90"},{"p":"b","k":"cap","x":0.005,"y":-1.33,"t":"(b)"}
]},
"facet":{"column":{"field":"p","type":"nominal","header":null}},
"spec":{
"width":376,"height":376,
"encoding":{
"x":{"field":"x","type":"quantitative","scale":{"domain":[-1,1],"nice":false,"zero":false},"axis":null},
"y":{"field":"y","type":"quantitative","scale":{"domain":[-1,1],"nice":false,"zero":false},"axis":null}
},
"layer":[
{"transform":[{"filter":"datum.k=='c'"}],"mark":{"type":"point","shape":"circle","filled":true,"size":141376,"color":"#0000f8","opacity":1,"strokeWidth":0}},

{"transform":[{"filter":"datum.k=='g'&&datum.l=='1'"}],"mark":{"type":"line","interpolate":"cardinal-closed","stroke":"#0418fa","strokeWidth":28,"strokeJoin":"round"},"encoding":{"detail":{"field":"g"},"order":{"value":null}}},
{"transform":[{"filter":"datum.k=='g'&&datum.l=='1'"}],"mark":{"type":"line","interpolate":"cardinal-closed","stroke":"#0830fc","strokeWidth":23,"strokeJoin":"round"},"encoding":{"detail":{"field":"g"},"order":{"value":null}}},
{"transform":[{"filter":"datum.k=='g'&&datum.l=='1'"}],"mark":{"type":"line","interpolate":"cardinal-closed","stroke":"#0c4cff","strokeWidth":18,"strokeJoin":"round"},"encoding":{"detail":{"field":"g"},"order":{"value":null}}},
{"transform":[{"filter":"datum.k=='g'&&datum.l=='1'"}],"mark":{"type":"line","interpolate":"cardinal-closed","stroke":"#1068ff","strokeWidth":13,"strokeJoin":"round"},"encoding":{"detail":{"field":"g"},"order":{"value":null}}},
{"transform":[{"filter":"datum.k=='g'&&datum.l=='1'"}],"mark":{"type":"line","interpolate":"cardinal-closed","stroke":"#1890ff","strokeWidth":8,"strokeJoin":"round"},"encoding":{"detail":{"field":"g"},"order":{"value":null}}},
{"transform":[{"filter":"datum.k=='g'&&datum.l=='1'"}],"mark":{"type":"line","interpolate":"cardinal-closed","stroke":"#20b8ff","strokeWidth":4,"strokeJoin":"round"},"encoding":{"detail":{"field":"g"},"order":{"value":null}}},
{"transform":[{"filter":"datum.k=='g'&&datum.l=='1'"}],"mark":{"type":"line","interpolate":"cardinal-closed","filled":true,"color":"#00f4ff","strokeWidth":0},"encoding":{"detail":{"field":"g"},"order":{"value":null}}},

{"transform":[{"filter":"datum.k=='g'&&datum.l=='2'"}],"mark":{"type":"line","interpolate":"cardinal-closed","stroke":"#10fcf8","strokeWidth":20,"strokeJoin":"round"},"encoding":{"detail":{"field":"g"},"order":{"value":null}}},
{"transform":[{"filter":"datum.k=='g'&&datum.l=='2'"}],"mark":{"type":"line","interpolate":"cardinal-closed","stroke":"#28ffe8","strokeWidth":14,"strokeJoin":"round"},"encoding":{"detail":{"field":"g"},"order":{"value":null}}},
{"transform":[{"filter":"datum.k=='g'&&datum.l=='2'"}],"mark":{"type":"line","interpolate":"cardinal-closed","stroke":"#40ffdc","strokeWidth":8,"strokeJoin":"round"},"encoding":{"detail":{"field":"g"},"order":{"value":null}}},
{"transform":[{"filter":"datum.k=='g'&&datum.l=='2'"}],"mark":{"type":"line","interpolate":"cardinal-closed","filled":true,"color":"#5cffcc","strokeWidth":0},"encoding":{"detail":{"field":"g"},"order":{"value":null}}},

{"transform":[{"filter":"datum.k=='g'&&datum.l=='2m'"}],"mark":{"type":"line","interpolate":"cardinal-closed","stroke":"#78ffb0","strokeWidth":24,"strokeJoin":"round"},"encoding":{"detail":{"field":"g"},"order":{"value":null}}},
{"transform":[{"filter":"datum.k=='g'&&datum.l=='2m'"}],"mark":{"type":"line","interpolate":"cardinal-closed","stroke":"#98ff88","strokeWidth":12,"strokeJoin":"round"},"encoding":{"detail":{"field":"g"},"order":{"value":null}}},
{"transform":[{"filter":"datum.k=='g'&&datum.l=='2m'"}],"mark":{"type":"line","interpolate":"cardinal-closed","filled":true,"color":"#b8ff58","strokeWidth":0},"encoding":{"detail":{"field":"g"},"order":{"value":null}}},

{"transform":[{"filter":"datum.k=='g'&&datum.l=='3'"}],"mark":{"type":"line","interpolate":"cardinal-closed","stroke":"#90ff90","strokeWidth":24,"strokeJoin":"round"},"encoding":{"detail":{"field":"g"},"order":{"value":null}}},
{"transform":[{"filter":"datum.k=='g'&&datum.l=='3'"}],"mark":{"type":"line","interpolate":"cardinal-closed","stroke":"#b8ff58","strokeWidth":16,"strokeJoin":"round"},"encoding":{"detail":{"field":"g"},"order":{"value":null}}},
{"transform":[{"filter":"datum.k=='g'&&datum.l=='3'"}],"mark":{"type":"line","interpolate":"cardinal-closed","stroke":"#e0ff28","strokeWidth":8,"strokeJoin":"round"},"encoding":{"detail":{"field":"g"},"order":{"value":null}}},
{"transform":[{"filter":"datum.k=='g'&&datum.l=='3'"}],"mark":{"type":"line","interpolate":"cardinal-closed","filled":true,"color":"#ffff00","strokeWidth":0},"encoding":{"detail":{"field":"g"},"order":{"value":null}}},
{"transform":[{"filter":"datum.k=='g'&&datum.l=='3s'"}],"mark":{"type":"line","interpolate":"cardinal-closed","filled":true,"color":"#e8ff20","strokeWidth":0},"encoding":{"detail":{"field":"g"},"order":{"value":null}}},

{"transform":[{"filter":"datum.k=='g'&&datum.l=='4'"}],"mark":{"type":"line","interpolate":"cardinal-closed","stroke":"#ffe000","strokeWidth":20,"strokeJoin":"round"},"encoding":{"detail":{"field":"g"},"order":{"value":null}}},
{"transform":[{"filter":"datum.k=='g'&&datum.l=='4'"}],"mark":{"type":"line","interpolate":"cardinal-closed","stroke":"#ffc000","strokeWidth":13,"strokeJoin":"round"},"encoding":{"detail":{"field":"g"},"order":{"value":null}}},
{"transform":[{"filter":"datum.k=='g'&&datum.l=='4'"}],"mark":{"type":"line","interpolate":"cardinal-closed","stroke":"#ffa000","strokeWidth":6,"strokeJoin":"round"},"encoding":{"detail":{"field":"g"},"order":{"value":null}}},
{"transform":[{"filter":"datum.k=='g'&&datum.l=='4'"}],"mark":{"type":"line","interpolate":"cardinal-closed","filled":true,"color":"#ff8000","strokeWidth":0},"encoding":{"detail":{"field":"g"},"order":{"value":null}}},

{"transform":[{"filter":"datum.k=='g'&&datum.l=='5'"}],"mark":{"type":"line","interpolate":"cardinal-closed","stroke":"#ff6800","strokeWidth":14,"strokeJoin":"round"},"encoding":{"detail":{"field":"g"},"order":{"value":null}}},
{"transform":[{"filter":"datum.k=='g'&&datum.l=='5'"}],"mark":{"type":"line","interpolate":"cardinal-closed","stroke":"#ff4800","strokeWidth":7,"strokeJoin":"round"},"encoding":{"detail":{"field":"g"},"order":{"value":null}}},
{"transform":[{"filter":"datum.k=='g'&&datum.l=='5'"}],"mark":{"type":"line","interpolate":"cardinal-closed","filled":true,"color":"#ff2400","strokeWidth":0},"encoding":{"detail":{"field":"g"},"order":{"value":null}}},

{"transform":[{"filter":"datum.k=='t'"}],"mark":{"type":"rule","color":"#a0a0a0","strokeWidth":1.5},"encoding":{"x2":{"field":"x2"},"y2":{"field":"y2"}}},

{"transform":[{"filter":"datum.k=='g'&&datum.l!='2m'&&datum.l!='5'&&datum.l!='3d'"}],"mark":{"type":"line","interpolate":"cardinal-closed","stroke":"#111111","strokeWidth":1.3},"encoding":{"detail":{"field":"g"},"order":{"value":null}}},
{"transform":[{"filter":"datum.k=='g'&&datum.l=='3d'"}],"mark":{"type":"line","interpolate":"cardinal-closed","stroke":"#333333","strokeWidth":1,"strokeDash":[2,2]},"encoding":{"detail":{"field":"g"},"order":{"value":null}}},

{"transform":[{"filter":"datum.k=='m'"}],"mark":{"type":"point","shape":"circle","filled":true,"size":72,"color":"#1212f0","stroke":"white","strokeWidth":1.5,"opacity":1}},
{"transform":[{"filter":"datum.k=='r'"}],"mark":{"type":"point","shape":"circle","filled":true,"size":90,"color":"#e80000","stroke":"#300000","strokeWidth":1,"opacity":1}},

{"transform":[{"filter":"datum.k=='c'"}],"mark":{"type":"point","shape":"circle","filled":false,"size":164025,"stroke":"white","strokeWidth":29,"opacity":1}},
{"transform":[{"filter":"datum.k=='c'"}],"mark":{"type":"point","shape":"circle","filled":false,"size":141376,"stroke":"#1a1a1a","strokeWidth":1.2,"opacity":1}},

{"transform":[{"filter":"datum.k=='lab'"}],"mark":{"type":"text","font":"Liberation Sans","fontSize":13,"color":"black"},"encoding":{"text":{"field":"t"}}},
{"transform":[{"filter":"datum.k=='cap'"}],"mark":{"type":"text","font":"Liberation Serif","fontSize":20,"color":"black"},"encoding":{"text":{"field":"t"}}}
]
}
}
